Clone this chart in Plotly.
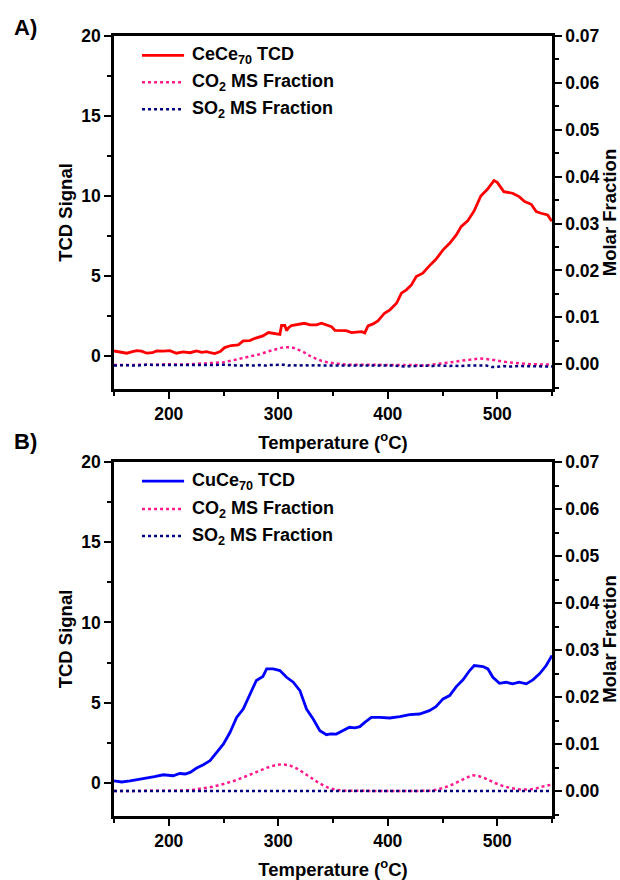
import plotly.graph_objects as go

# ---------------- Panel A data ----------------
tA_tcd = [150, 155, 161.7, 166, 170.8, 175, 180, 185, 189, 195, 201, 207, 213, 219.5, 225.5, 230, 234.7, 238,
          242, 247, 251, 257, 263.5, 268, 274, 278.7, 286, 291, 297, 301.5, 303, 306, 307.6, 309, 312, 319.8,
          324, 329, 335, 339.5, 344, 348.6, 351.7, 356, 362, 367, 371, 376, 379, 382, 386.6, 391, 397, 402,
          408, 412.5, 417, 421.6, 426, 432, 438, 444, 450.5, 456.5, 462.6, 467, 473, 479, 485, 491, 497, 500,
          506, 514, 520, 525, 531, 535.6, 540, 546, 549, 550]
vA_tcd = [0.31, 0.25, 0.17, 0.25, 0.33, 0.3, 0.17, 0.2, 0.31, 0.3, 0.33, 0.17, 0.25, 0.2, 0.31, 0.22, 0.27, 0.2,
          0.15, 0.27, 0.52, 0.65, 0.69, 0.94, 0.96, 1.1, 1.25, 1.46, 1.42, 1.35, 1.9, 1.9, 1.58, 1.73, 1.9, 1.96,
          2.04, 1.94, 1.94, 2.04, 1.94, 1.83, 1.6, 1.58, 1.58, 1.46, 1.5, 1.52, 1.44, 1.88, 2.0, 2.19, 2.67, 2.88,
          3.29, 3.92, 4.13, 4.44, 4.96, 5.17, 5.63, 6.04, 6.63, 7.04, 7.56, 8.08, 8.44, 9.08, 10.0, 10.42, 10.96, 10.85,
          10.27, 10.17, 9.96, 9.65, 9.48, 9.02, 8.92, 8.81, 8.5, 8.45]

tA_ms = [150, 160, 170, 180, 190, 200, 210, 220, 230, 240, 250, 259, 265, 271, 277, 283, 288, 292, 298, 304.5,
         309, 313.7, 318, 323, 330, 335, 339.5, 345, 350, 358, 365, 375, 385, 395, 405, 415, 425, 433, 441, 444,
         450, 456.5, 461, 465.7, 472, 478, 484, 490, 495, 499, 506, 513, 520, 530, 540, 550]
vA_co2 = [-0.0002, -0.0002, -0.0001, -0.0002, -0.0001, 0.0, -0.0001, 0.0, 0.0001, 0.0003, 0.0004, 0.00085, 0.0012,
          0.0016, 0.0018, 0.0021, 0.0024, 0.0028, 0.0032, 0.0036, 0.0036, 0.0035, 0.0031, 0.0026, 0.0016, 0.0011,
          0.0007, 0.0004, 0.0002, 0.0, -0.0001, -0.0001, -0.0002, -0.0001, -0.0002, -0.0001, -0.0002, -0.0003,
          -0.0001, 0.0, 0.0002, 0.0003, 0.0005, 0.0007, 0.0009, 0.0011, 0.0012, 0.0011, 0.001, 0.0008, 0.0005,
          0.0003, 0.0002, 0.0, -0.0001, -0.0001]
vA_so2 = [-0.0003, -0.0002, -0.0003, -0.0001, -0.0002, -0.0002, -0.0003, -0.0002, -0.0003, -0.0002, -0.0001,
          -0.0002, -0.0003, -0.0002, -0.0003, -0.0002, -0.0003, -0.0002, -0.0001, -0.0001, -0.0003, -0.0002,
          -0.0003, -0.0002, -0.0003, -0.0002, -0.0003, -0.0003, -0.0003, -0.0003, -0.0004, -0.0003, -0.0003,
          -0.0004, -0.0003, -0.0005, -0.0004, -0.0003, -0.0004, -0.0003, -0.0003, -0.0004, -0.0003, -0.0004,
          -0.0003, -0.0003, -0.0004, -0.0003, -0.0006, -0.0006, -0.0004, -0.0005, -0.0004, -0.0004, -0.0005,
          -0.0005]

# ---------------- Panel B data ----------------
tB_tcd = [150, 157, 164.7, 172, 180, 187, 195, 204, 210, 215, 219.5, 225.5, 231.6, 237.7, 243.8, 250, 256, 262,
          268, 274, 280, 286, 289.4, 295.4, 301.5, 307.6, 313.7, 319.8, 325.8, 331.9, 338, 344, 348, 353, 359,
          365, 370, 374.5, 379, 385, 392.7, 401.8, 411, 420, 429, 438, 444, 450.5, 456.5, 462.6, 468.7, 474.8,
          479, 487, 491.5, 496, 502, 508, 514, 520, 526.5, 532.5, 538.6, 544.7, 550]
vB_tcd = [0.12, 0.05, 0.12, 0.2, 0.29, 0.38, 0.5, 0.44, 0.58, 0.55, 0.65, 0.92, 1.13, 1.38, 1.9, 2.42, 3.15, 4.08,
          4.6, 5.44, 6.38, 6.63, 7.1, 7.1, 7.0, 6.58, 6.27, 5.75, 4.6, 3.98, 3.25, 3.0, 3.05, 3.04, 3.25, 3.46,
          3.42, 3.5, 3.77, 4.08, 4.08, 4.04, 4.13, 4.25, 4.29, 4.5, 4.75, 5.23, 5.44, 6.0, 6.42, 7.0, 7.31, 7.25,
          7.1, 6.58, 6.2, 6.27, 6.17, 6.27, 6.17, 6.42, 6.79, 7.31, 7.94]

tB_ms = [150, 170, 190, 210, 220, 230, 240, 250, 260, 270, 280, 290, 297, 303, 310, 318, 325, 330, 338, 345, 352,
         360, 380, 400, 420, 440, 445, 450, 455, 460, 465, 470, 477, 483, 490, 497, 505, 513, 521, 530, 535, 540,
         545, 550]
vB_co2 = [0.0, 0.0, 0.0, 0.0001, 0.0002, 0.0005, 0.0009, 0.0015, 0.0022, 0.0031, 0.0041, 0.005, 0.0055, 0.0057,
          0.0055, 0.0047, 0.0036, 0.0028, 0.0016, 0.0008, 0.0003, 0.0001, 0.0, 0.0, 0.0, 0.0001, 0.0003, 0.0006,
          0.001, 0.0015, 0.0021, 0.0027, 0.0034, 0.0032, 0.0026, 0.0018, 0.0011, 0.0006, 0.00035, 0.00035, 0.0005,
          0.0009, 0.0012, 0.0014]
vB_so2 = [0.0] * len(tB_ms)

# ---------------- labels ----------------
legendA = ["CeCe<sub>70</sub> TCD", "CO<sub>2</sub> MS Fraction", "SO<sub>2</sub> MS Fraction"]
legendB = ["CuCe<sub>70</sub> TCD", "CO<sub>2</sub> MS Fraction", "SO<sub>2</sub> MS Fraction"]
xticks = [200, 300, 400, 500]
yticks = [0, 5, 10, 15, 20]
y2ticks = [0.0, 0.01, 0.02, 0.03, 0.04, 0.05, 0.06, 0.07]

RED = "#FF0000"
BLUE = "#0000FF"
PINK = "#FF1A8C"
NAVY = "#00007F"
FONT = "Liberation Sans, Arial, sans-serif"

fig = go.Figure()
fig.add_trace(go.Scatter(x=tA_tcd, y=vA_tcd, mode="lines", line=dict(color=RED, width=2.8), xaxis="x", yaxis="y"))
fig.add_trace(go.Scatter(x=tA_ms, y=vA_co2, mode="lines", line=dict(color=PINK, width=2.5, dash="dot"), xaxis="x", yaxis="y2"))
fig.add_trace(go.Scatter(x=tA_ms, y=vA_so2, mode="lines", line=dict(color=NAVY, width=2.5, dash="dot"), xaxis="x", yaxis="y2"))
fig.add_trace(go.Scatter(x=tB_tcd, y=vB_tcd, mode="lines", line=dict(color=BLUE, width=2.8), xaxis="x2", yaxis="y3"))
fig.add_trace(go.Scatter(x=tB_ms, y=vB_co2, mode="lines", line=dict(color=PINK, width=2.5, dash="dot"), xaxis="x2", yaxis="y4"))
fig.add_trace(go.Scatter(x=tB_ms, y=vB_so2, mode="lines", line=dict(color=NAVY, width=2.5, dash="dot"), xaxis="x2", yaxis="y4"))

tickfont = dict(family=FONT, size=17.5, color="black", weight="bold")
titlefont = dict(family=FONT, size=18.5, color="black", weight="bold")
common = dict(showline=True, linecolor="black", linewidth=2.5, ticks="outside", ticklen=7, tickwidth=2,
              tickcolor="black", showgrid=False, zeroline=False, tickfont=tickfont, automargin=False)

domA = [0.5474, 1.0]
domB = [0.0, 0.4538]

def xax(anchor):
    return dict(common, range=[150, 550], tickvals=xticks, mirror=True, anchor=anchor,
                minor=dict(ticks="outside", ticklen=4, tickwidth=2, tickcolor="black", dtick=50, tick0=150),
                title=dict(text="Temperature (<sup>o</sup>C)", font=titlefont, standoff=14))

def yax(dom, anchor):
    return dict(common, range=[-2.07, 20], domain=dom, tickvals=yticks, anchor=anchor,
                minor=dict(ticks="outside", ticklen=4, tickwidth=2, tickcolor="black", dtick=2.5, tick0=0),
                title=dict(text="TCD Signal", font=titlefont, standoff=4))

def y2ax(over, anchor):
    return dict(common, range=[-0.0053, 0.07], overlaying=over, side="right", anchor=anchor,
                tickvals=y2ticks, tickformat=".2f",
                minor=dict(ticks="outside", ticklen=4, tickwidth=2, tickcolor="black", dtick=0.005, tick0=0),
                title=dict(text="Molar Fraction", font=titlefont, standoff=8))

fig.update_layout(
    width=620, height=880,
    margin=dict(l=114, r=68, t=36, b=64),
    paper_bgcolor="white", plot_bgcolor="white",
    showlegend=False,
    font=dict(family=FONT, color="black"),
    xaxis=dict(xax("y"), domain=[0, 1]),
    yaxis=yax(domA, "x"),
    yaxis2=dict(y2ax("y", "x"), domain=domA),
    xaxis2=dict(xax("y3"), domain=[0, 1]),
    yaxis3=yax(domB, "x2"),
    yaxis4=dict(y2ax("y3", "x2"), domain=domB),
)

# Manual legends (line samples + labels)
shapes = []
annotations = []
rowsA = [0.945, 0.869, 0.7925]
rowsB = [0.946, 0.867, 0.791]
styles = [None, "dot", "dot"]
for xref, yref, rows, labels, c0 in [("x domain", "y domain", rowsA, legendA, RED),
                                     ("x2 domain", "y3 domain", rowsB, legendB, BLUE)]:
    cols = [c0, PINK, NAVY]
    for r, lab, col, st in zip(rows, labels, cols, styles):
        ln = dict(color=col, width=2.8 if st is None else 2.5)
        if st:
            ln["dash"] = st
        shapes.append(dict(type="line", xref=xref, yref=yref, x0=0.064, x1=0.16, y0=r, y1=r, line=ln))
        annotations.append(dict(xref=xref, yref=yref, x=0.1735, y=r, xanchor="left", yanchor="middle",
                                text="<b>" + lab + "</b>", showarrow=False,
                                font=dict(family=FONT, size=18, color="black")))

annotations.append(dict(xref="paper", yref="paper", x=-0.233, y=1.0115, xanchor="left", yanchor="middle",
                        text="<b>A)</b>", showarrow=False, font=dict(family=FONT, size=22, color="black")))
annotations.append(dict(xref="paper", yref="paper", x=-0.233, y=0.4795, xanchor="left", yanchor="middle",
                        text="<b>B)</b>", showarrow=False, font=dict(family=FONT, size=22, color="black")))
fig.update_layout(shapes=shapes, annotations=annotations)

fig.write_html("out.html")
